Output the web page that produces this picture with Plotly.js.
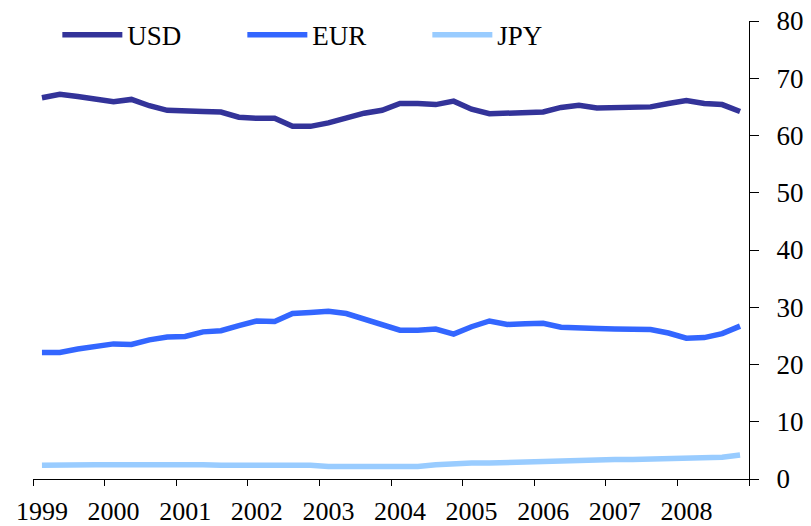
<!DOCTYPE html>
<html>
<head>
<meta charset="utf-8">
<script src="https://cdn.plot.ly/plotly-3.0.1.min.js"></script>
<style>html,body{margin:0;padding:0;background:#fff;}#chart{width:811px;height:526px;}</style>
</head>
<body>
<div id="chart"></div>
<script>
// Quarterly observations, 1999Q1 .. 2008Q4 (index 0..39)
const quarters = Array.from({length: 40}, (_, i) => i);
const yearLabels = ["1999","2000","2001","2002","2003","2004","2005","2006","2007","2008",""];
const yearBoundaries = [-0.5,3.5,7.5,11.5,15.5,19.5,23.5,27.5,31.5,35.5,39.5];

const usd = [66.6,67.2,66.8,66.3,65.9,66.3,65.2,64.4,64.4,64.2,
             64.1,63.2,63.0,63.0,61.6,61.6,62.2,63.0,63.9,64.4,
             65.6,65.6,65.4,66.0,64.6,63.8,63.9,64.0,64.1,64.9,
             65.3,64.8,64.9,65.0,65.0,65.6,66.1,65.6,65.4,64.2];
const eur = [22.1,22.1,22.7,23.2,23.6,23.5,24.3,24.8,24.9,25.7,
             25.9,26.8,27.6,27.5,28.9,29.1,29.3,28.9,28.0,27.0,
             26.0,26.0,26.2,25.3,26.6,27.6,27.0,27.1,27.2,26.5,
             26.3,26.3,26.2,26.1,26.1,25.5,24.6,24.7,25.4,26.7];
const jpy = [2.4,2.5,2.4,2.5,2.5,2.5,2.5,2.5,2.7,2.5,
             2.4,2.4,2.5,2.5,2.4,2.4,2.2,2.2,2.1,2.3,
             2.2,2.2,2.5,2.7,2.8,2.8,2.9,3.0,3.2,3.3,
             3.3,3.3,3.4,3.4,3.5,3.6,3.7,3.7,3.8,4.2];

const FONT = "Liberation Serif";

const traces = [
  {name: "USD", x: quarters, y: usd, type: "scatter", mode: "lines", line: {color: "#333399", width: 5.5}},
  {name: "EUR", x: quarters, y: eur, type: "scatter", mode: "lines", line: {color: "#3366FF", width: 5.5}},
  {name: "JPY", x: quarters, y: jpy, type: "scatter", mode: "lines", line: {color: "#99CCFF", width: 5.5}}
];

const layout = {
  width: 811, height: 526,
  margin: {l: 33, r: 62, t: 20, b: 47},
  paper_bgcolor: "#fff", plot_bgcolor: "#fff",
  font: {family: FONT, color: "#000", size: 26},
  showlegend: true,
  legend: {
    orientation: "h", x: 0.034, y: 0.967, xanchor: "left", yanchor: "middle",
    entrywidth: 110, entrywidthmode: "pixels", itemwidth: 60,
    font: {family: FONT, size: 27, color: "#000"}, bgcolor: "rgba(0,0,0,0)"
  },
  xaxis: {
    range: [-0.5, 39.5], tickmode: "array", tickvals: yearBoundaries, ticktext: yearLabels,
    ticks: "outside", ticklen: 6, tickcolor: "#000", tickwidth: 1,
    ticklabelshift: 9, ticklabelstandoff: 3,
    showline: true, linecolor: "#000", linewidth: 1,
    showgrid: false, zeroline: false,
    tickfont: {family: FONT, size: 26, color: "#000"}
  },
  yaxis: {
    side: "right", range: [0, 80], tickmode: "linear", tick0: 0, dtick: 10,
    ticks: "outside", ticklen: 9, tickcolor: "#000", tickwidth: 1,
    ticklabelstandoff: 12,
    showline: true, linecolor: "#000", linewidth: 1,
    showgrid: false, zeroline: false,
    tickfont: {family: FONT, size: 27, color: "#000"}
  }
};

Plotly.newPlot("chart", traces, layout, {displayModeBar: false, staticPlot: true});
</script>
</body>
</html>
